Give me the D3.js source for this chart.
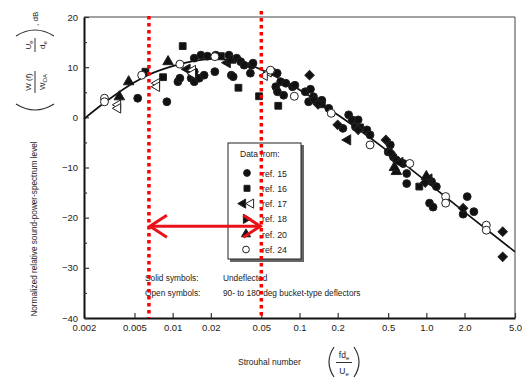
<!DOCTYPE html>
<html>
<head>
<meta charset="utf-8">
<script src="https://cdn.jsdelivr.net/npm/d3@7"></script>
<style>
  body { margin: 0; background: #fff; }
  svg text { font-family: "Liberation Sans", Arial, sans-serif; fill: #222; }
</style>
</head>
<body>
<div id="chart"></div>
<script>
// Strouhal number / dB ticks
const stTicks = [0.002, 0.005, 0.01, 0.02, 0.05, 0.1, 0.2, 0.5, 1.0, 2.0, 5.0];
const stLabels = ['0.002', '0.005', '0.01', '0.02', '0.05', '0.1', '0.2', '0.5', '1.0', '2.0', '5.0'];
const dbTicks = [20, 10, 0, -10, -20, -30, -40];
const dbMinor = [15, 5, -5, -15, -25, -35];

// faired curve through the data
const fitSt = [0.002, 0.003, 0.005, 0.0065, 0.01, 0.02, 0.03, 0.05, 0.1, 0.2, 0.5, 1.0, 2.0, 5.0];
const fitDb = [-0.3, 3.2, 7.0, 8.5, 10.2, 11.6, 11.5, 9.5, 5.5, 0.5, -6.8, -12.8, -18.9, -26.8];

// data points [St, dB]
const ref15 = [[0.0053,3.8],[0.009,3.1],[0.011,7.1],[0.0114,7.8],[0.014,7.8],[0.0148,11.8],[0.0167,12.4],
  [0.0188,12.2],[0.0148,7.1],[0.0162,7.8],[0.0177,8.4],[0.0215,9.1],[0.0219,12.4],[0.0278,12.4],[0.029,8.4],
  [0.030,8.1],[0.032,11.8],[0.0344,11.1],[0.0366,10.4],[0.042,10.4],[0.041,8.8],[0.0148,9.1],[0.043,10.8],
  [0.061,9.1],[0.0667,8.8],[0.065,6.1],[0.071,7.1],[0.078,6.8],[0.075,4.4],[0.067,5.1],[0.088,6.1],
  [0.092,6.4],[0.111,5.1],[0.122,5.6],[0.129,4.1],[0.118,3.1],[0.142,3.1],[0.150,3.4],[0.17,1.8],
  [0.244,0.5],[0.26,-0.5],[0.29,-0.5],[0.22,-2.2],[0.276,-1.9],[0.34,-2.5],[0.36,-3.5],[0.52,-5.5],
  [0.50,-6.9],[0.55,-7.9],[0.58,-8.5],[0.66,-9.2],[0.70,-11.2],[0.70,-13.2],[1.1,-12.8],[1.2,-13.8],
  [1.06,-17.1],[1.13,-17.9],[2.1,-15.8],[1.95,-19.3],[2.37,-18.8]];
const ref16 = [[0.0061,9.1],[0.0084,8.0],[0.012,14.2],[0.024,12.2],[0.033,5.9],[0.048,4.2],[0.068,2.3],
  [0.15,2.6],[0.3,-2.0],[0.88,-13.8]];
const ref17Solid = [[0.013,9.6],[0.027,10.9],[0.24,-4.5],[0.62,-9.0],[1.05,-12.3]];
const ref17Open = [[0.0037,2.5],[0.0037,1.8],[0.0075,6.8],[0.0075,6.1],[0.0144,9.4],[0.0144,8.7],
  [0.057,9.0],[0.053,8.3]];
const ref18 = [[0.12,8.4],[0.13,3.5],[0.2,-1.5],[0.29,-2.5],[0.48,-4.5],[0.98,-13.0],[1.95,-18.1],
  [4.0,-22.8],[4.0,-27.8],[0.14,2.6],[0.52,-7.0]];
const ref20 = [[0.0038,4.1],[0.0045,7.1],[0.0092,11.1],[0.0287,11.4],[0.58,-10.8],[0.56,-10.0],[1.0,-11.8]];
const ref24 = [[0.0029,3.8],[0.0029,3.1],[0.0057,8.4],[0.0114,10.6],[0.0215,12.1],[0.059,9.4],[0.091,4.2],
  [0.178,0.8],[0.36,-5.5],[0.74,-9.2],[1.42,-15.8],[1.42,-17.1],[2.97,-21.5],[2.97,-22.5]];

// red annotation: St bounds and level of the arrow
const bandSt = [0.0065, 0.05];
const bandTop = [20.2, 21.2];
const arrowDb = -21.7;

const legendRefs = ['ref. 15', 'ref. 16', 'ref. 17', 'ref. 18', 'ref. 20', 'ref. 24'];

const width = 523, height = 378;
const svg = d3.select('#chart').append('svg').attr('width', width).attr('height', height);

const x = d3.scaleLog().domain([0.002, 5]).range([84, 515]);
const y = d3.scaleLinear().domain([-40, 20]).range([318, 17]);

// frame top/right
svg.append('line').attr('x1', 84).attr('x2', 515).attr('y1', y(20)).attr('y2', y(20))
  .attr('stroke', '#444').attr('stroke-width', 1);
svg.append('line').attr('x1', 515).attr('x2', 515).attr('y1', y(20)).attr('y2', y(-40))
  .attr('stroke', '#444').attr('stroke-width', 1);

const xAxis = d3.axisBottom(x).tickValues(stTicks).tickFormat((d, i) => stLabels[i])
  .tickSizeInner(-5).tickSizeOuter(0).tickPadding(6);
svg.append('g').attr('transform', `translate(0,${y(-40)})`).call(xAxis)
  .call(g => g.select('.domain').attr('stroke', '#111').attr('stroke-width', 2))
  .call(g => g.selectAll('.tick line').attr('stroke', '#333').attr('stroke-width', 1.2))
  .call(g => g.selectAll('.tick text').style('font-size', '9.5px').attr('fill', '#222'));

const yAxis = d3.axisLeft(y).tickValues(dbTicks).tickSizeInner(-5).tickSizeOuter(0).tickPadding(6);
svg.append('g').attr('transform', 'translate(84,0)').call(yAxis)
  .call(g => g.select('.domain').attr('stroke', '#111').attr('stroke-width', 2))
  .call(g => g.selectAll('.tick line').attr('stroke', '#333').attr('stroke-width', 1.2))
  .call(g => g.selectAll('.tick text').style('font-size', '9.5px').attr('fill', '#222'));

svg.append('g').attr('transform', 'translate(84,0)')
  .call(d3.axisLeft(y).tickValues(dbMinor).tickSizeInner(-3).tickSizeOuter(0).tickFormat(''))
  .call(g => g.select('.domain').remove())
  .call(g => g.selectAll('.tick line').attr('stroke', '#333').attr('stroke-width', 1.2));

// fitted curve
const fit = fitSt.map((s, i) => [s, fitDb[i]]);
svg.append('path').datum(fit)
  .attr('fill', 'none').attr('stroke', '#111').attr('stroke-width', 1.7)
  .attr('d', d3.line().x(d => x(d[0])).y(d => y(d[1])).curve(d3.curveMonotoneX));

// symbols
const sym = (type, size) => d3.symbol().type(type).size(size)();
const series = [
  { data: ref15, type: d3.symbolCircle, size: 48, fill: '#111', rot: 0 },
  { data: ref16, type: d3.symbolSquare, size: 46, fill: '#111', rot: 0 },
  { data: ref17Solid, type: d3.symbolTriangle, size: 46, fill: '#111', rot: -90 },
  { data: ref17Open, type: d3.symbolTriangle, size: 40, fill: '#fff', rot: -90 },
  { data: ref18, type: d3.symbolSquare, size: 44, fill: '#111', rot: 45 },
  { data: ref20, type: d3.symbolTriangle, size: 48, fill: '#111', rot: 0 },
  { data: ref24, type: d3.symbolCircle, size: 50, fill: '#fff', rot: 0 },
];
series.forEach(s => {
  svg.append('g').selectAll('path').data(s.data).enter().append('path')
    .attr('d', sym(s.type, s.size))
    .attr('transform', d => `translate(${x(d[0])},${y(d[1])}) rotate(${s.rot})`)
    .attr('fill', s.fill).attr('stroke', '#222').attr('stroke-width', 1);
});

// legend box
const lg = svg.append('g');
lg.append('rect').attr('x', 230).attr('y', 145).attr('width', 74).attr('height', 117)
  .attr('fill', '#666');
lg.append('rect').attr('x', 228).attr('y', 143).attr('width', 73).attr('height', 116)
  .attr('fill', '#fff').attr('stroke', '#222').attr('stroke-width', 1);
lg.append('text').attr('x', 240).attr('y', 157).style('font-size', '8.5px').text('Data from:');
const legSyms = [
  [{ t: d3.symbolCircle, f: '#111', r: 0, dx: 247 }],
  [{ t: d3.symbolSquare, f: '#111', r: 0, dx: 247 }],
  [{ t: d3.symbolTriangle, f: '#111', r: -90, dx: 243 }, { t: d3.symbolTriangle, f: '#fff', r: -90, dx: 251 }],
  [{ t: d3.symbolTriangle, f: '#111', r: 90, dx: 246 }],
  [{ t: d3.symbolTriangle, f: '#111', r: 0, dx: 246 }],
  [{ t: d3.symbolCircle, f: '#fff', r: 0, dx: 246 }],
];
legendRefs.forEach((r, i) => {
  const yy = 173 + i * 15.3;
  legSyms[i].forEach(s => {
    lg.append('path').attr('d', sym(s.t, 36))
      .attr('transform', `translate(${s.dx},${yy}) rotate(${s.r})`)
      .attr('fill', s.f).attr('stroke', '#222').attr('stroke-width', 1);
  });
  lg.append('text').attr('x', 262).attr('y', yy + 3.5).style('font-size', '8.8px').text(r);
});

// notes
const notes = [['Solid symbols:', 'Undeflected'], ['Open symbols:', '90- to 180-deg bucket-type deflectors']];
notes.forEach((n, i) => {
  svg.append('text').attr('x', 145).attr('y', 281 + i * 14.5).style('font-size', '8.3px').text(n[0]);
  svg.append('text').attr('x', 223).attr('y', 281 + i * 14.5).style('font-size', '8.3px').text(n[1]);
});

// x title
svg.append('text').attr('x', 238).attr('y', 365).style('font-size', '8.5px').text('Strouhal number');
const xf = svg.append('g');
xf.append('path').attr('d', 'M334,347 Q324,362 334,377').attr('fill', 'none').attr('stroke', '#333').attr('stroke-width', 1.2);
xf.append('path').attr('d', 'M354,347 Q364,362 354,377').attr('fill', 'none').attr('stroke', '#333').attr('stroke-width', 1.2);
xf.append('line').attr('x1', 336).attr('x2', 352).attr('y1', 362.5).attr('y2', 362.5).attr('stroke', '#333');
xf.append('text').attr('x', 344).attr('y', 358).attr('text-anchor', 'middle').style('font-size', '8.5px')
  .html('fd<tspan dy="2" style="font-size:6px">e</tspan>');
xf.append('text').attr('x', 344).attr('y', 374).attr('text-anchor', 'middle').style('font-size', '8.5px')
  .html('U<tspan dy="2" style="font-size:6px">e</tspan>');

// y title
svg.append('text').attr('transform', 'translate(37,229) rotate(-90)').attr('text-anchor', 'middle')
  .style('font-size', '8.2px').text('Normalized relative sound-power-spectrum level');
const yf = svg.append('g').attr('transform', 'translate(35,70) rotate(-90)');
yf.append('path').attr('d', 'M-34,-19 Q-46,0 -34,19').attr('fill', 'none').attr('stroke', '#333').attr('stroke-width', 1.2);
yf.append('path').attr('d', 'M34,-19 Q46,0 34,19').attr('fill', 'none').attr('stroke', '#333').attr('stroke-width', 1.2);
yf.append('line').attr('x1', -23).attr('x2', -1).attr('y1', 0).attr('y2', 0).attr('stroke', '#333');
yf.append('line').attr('x1', 18).attr('x2', 32).attr('y1', 0).attr('y2', 0).attr('stroke', '#333');
yf.append('text').attr('x', -12).attr('y', -4).attr('text-anchor', 'middle').style('font-size', '8px').text('W (f)');
yf.append('text').attr('x', -12).attr('y', 10).attr('text-anchor', 'middle').style('font-size', '8px')
  .html('W<tspan dy="2" style="font-size:6px">OA</tspan>');
yf.append('text').attr('x', 25).attr('y', -4).attr('text-anchor', 'middle').style('font-size', '8px')
  .html('U<tspan dy="2" style="font-size:6px">e</tspan>');
yf.append('text').attr('x', 25).attr('y', 10).attr('text-anchor', 'middle').style('font-size', '8px')
  .html('d<tspan dy="2" style="font-size:6px">e</tspan>');
yf.append('text').attr('x', 44).attr('y', 3).style('font-size', '8px').text(', dB');

// red dotted lines and arrow
bandSt.forEach((s, i) => {
  svg.append('line').attr('x1', x(s)).attr('x2', x(s)).attr('y1', y(bandTop[i])).attr('y2', y(-40))
    .attr('stroke', '#f00').attr('stroke-width', 3.5).attr('stroke-dasharray', '3.5 3.5');
});
const ax0 = x(bandSt[0]) + 1, ax1 = x(bandSt[1]) - 1, ay = y(arrowDb);
svg.append('line').attr('x1', ax0).attr('x2', ax1).attr('y1', ay).attr('y2', ay)
  .attr('stroke', '#e8121a').attr('stroke-width', 3);
svg.append('path').attr('d', `M${ax0 + 17},${ay - 11} L${ax0},${ay} L${ax0 + 17},${ay + 11}`)
  .attr('fill', 'none').attr('stroke', '#e8121a').attr('stroke-width', 3).attr('stroke-linejoin', 'miter');
svg.append('path').attr('d', `M${ax1 - 17},${ay - 11} L${ax1},${ay} L${ax1 - 17},${ay + 11}`)
  .attr('fill', 'none').attr('stroke', '#e8121a').attr('stroke-width', 3).attr('stroke-linejoin', 'miter');
</script>
</body>
</html>
